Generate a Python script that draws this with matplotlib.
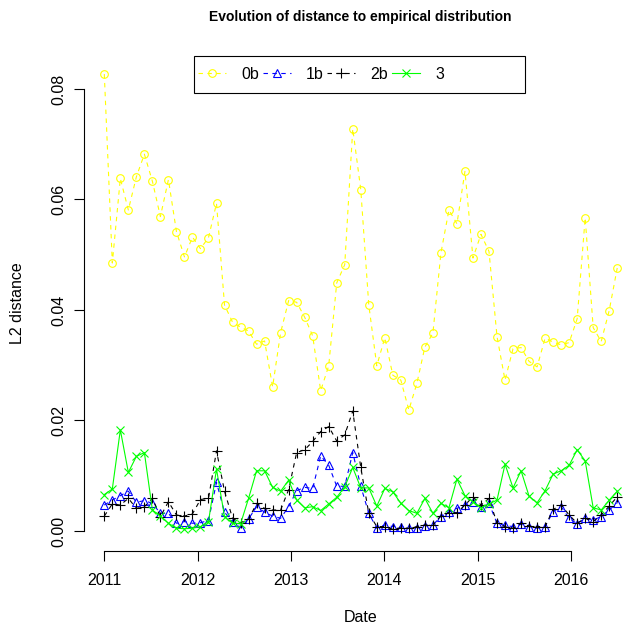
import numpy as np
import matplotlib
matplotlib.use("Agg")
import matplotlib.pyplot as plt
from matplotlib.patches import Rectangle

plt.rcParams["font.family"] = ["Liberation Sans", "DejaVu Sans"]

# dates as fractional years (65 roughly-monthly observations)
start_year = 2011.0
step_year = 0.0859
dates = start_year + np.arange(65) * step_year

dist_0b = [0.0827, 0.0485, 0.0638, 0.0581, 0.0641, 0.0682, 0.0633, 0.0569, 0.0636, 0.0542,
           0.0496, 0.0532, 0.0511, 0.0531, 0.0593, 0.0409, 0.0378, 0.0369, 0.0362, 0.0338,
           0.0344, 0.0261, 0.0359, 0.0417, 0.0414, 0.0387, 0.0353, 0.0254, 0.0299, 0.0449,
           0.0482, 0.0728, 0.0618, 0.0409, 0.0299, 0.0350, 0.0282, 0.0273, 0.0219, 0.0267,
           0.0333, 0.0358, 0.0503, 0.0581, 0.0556, 0.0651, 0.0494, 0.0537, 0.0506, 0.0352,
           0.0273, 0.0330, 0.0332, 0.0307, 0.0297, 0.0349, 0.0342, 0.0337, 0.0341, 0.0384,
           0.0567, 0.0368, 0.0343, 0.0399, 0.0476]
dist_1b = [0.0047, 0.0056, 0.0064, 0.0072, 0.0052, 0.0055, 0.0050, 0.0032, 0.0032, 0.0014,
           0.0017, 0.0014, 0.0015, 0.0019, 0.0088, 0.0034, 0.0016, 0.0006, 0.0022, 0.0044,
           0.0034, 0.0027, 0.0023, 0.0044, 0.0073, 0.0079, 0.0077, 0.0136, 0.0119, 0.0081,
           0.0081, 0.0142, 0.0081, 0.0032, 0.0005, 0.0011, 0.0008, 0.0008, 0.0005, 0.0005,
           0.0009, 0.0011, 0.0026, 0.0034, 0.0041, 0.0047, 0.0053, 0.0044, 0.0050, 0.0014,
           0.0010, 0.0008, 0.0012, 0.0008, 0.0005, 0.0008, 0.0035, 0.0044, 0.0023, 0.0013,
           0.0023, 0.0020, 0.0026, 0.0038, 0.0051]
dist_2b = [0.0027, 0.0049, 0.0047, 0.0059, 0.0041, 0.0044, 0.0059, 0.0026, 0.0053, 0.0029,
           0.0027, 0.0031, 0.0057, 0.0059, 0.0145, 0.0072, 0.0023, 0.0015, 0.0021, 0.0050,
           0.0041, 0.0038, 0.0038, 0.0075, 0.0142, 0.0147, 0.0162, 0.0180, 0.0189, 0.0163,
           0.0174, 0.0217, 0.0115, 0.0032, 0.0008, 0.0008, 0.0003, 0.0006, 0.0005, 0.0008,
           0.0011, 0.0010, 0.0028, 0.0033, 0.0033, 0.0047, 0.0062, 0.0047, 0.0059, 0.0014,
           0.0008, 0.0005, 0.0014, 0.0009, 0.0008, 0.0008, 0.0039, 0.0047, 0.0029, 0.0014,
           0.0023, 0.0017, 0.0029, 0.0045, 0.0062]
dist_3 = [0.0066, 0.0076, 0.0183, 0.0106, 0.0135, 0.0142, 0.0038, 0.0027, 0.0014, 0.0005,
          0.0004, 0.0005, 0.0008, 0.0017, 0.0112, 0.0026, 0.0014, 0.0013, 0.0059, 0.0109,
          0.0109, 0.0079, 0.0072, 0.0092, 0.0056, 0.0042, 0.0044, 0.0037, 0.0049, 0.0061,
          0.0080, 0.0115, 0.0078, 0.0078, 0.0045, 0.0077, 0.0071, 0.0050, 0.0037, 0.0032,
          0.0059, 0.0032, 0.0050, 0.0042, 0.0094, 0.0064, 0.0053, 0.0042, 0.0049, 0.0056,
          0.0121, 0.0078, 0.0109, 0.0063, 0.0051, 0.0073, 0.0103, 0.0109, 0.0119, 0.0147,
          0.0127, 0.0042, 0.0038, 0.0056, 0.0072]

labels = ["0b", "1b", "2b", "3"]
year_ticks = [2011, 2012, 2013, 2014, 2015, 2016]
y_ticks = [0.00, 0.02, 0.04, 0.06, 0.08]

W, H = 628, 625
fs = 11.5
fig = plt.figure(figsize=(W / 100, H / 100), dpi=100)
# plot region in pixels (R-like margins)
left, right, top, bottom = 84, 637, 56, 551
ax = fig.add_axes([left / W, 1 - bottom / H, (right - left) / W, (bottom - top) / H])

dash = (0, (4, 4))
ax.plot(dates, dist_0b, color="#FFFF00", linestyle=dash, lw=0.8, marker="o",
        markersize=5.5, markerfacecolor="none", markeredgewidth=0.8, label=labels[0])
ax.plot(dates, dist_1b, color="#0000FF", linestyle=dash, lw=0.8, marker="^",
        markersize=6, markerfacecolor="none", markeredgewidth=0.8, label=labels[1])
ax.plot(dates, dist_2b, color="black", linestyle=dash, lw=0.8, marker="+",
        markersize=7, markeredgewidth=0.8, label=labels[2])
ax.plot(dates, dist_3, color="#00FF00", linestyle="-", lw=0.8, marker="x",
        markersize=5.5, markeredgewidth=0.8, label=labels[3])

ax.set_xlim(2010.7824, 2016.7095)
ax.set_ylim(-0.00362, 0.08597)

for s in ["top", "right"]:
    ax.spines[s].set_visible(False)
ax.spines["left"].set_bounds(0.0, 0.08)
ax.spines["bottom"].set_bounds(2011, 2016)
for s in ["left", "bottom"]:
    ax.spines[s].set_linewidth(0.8)

ax.set_xticks(year_ticks)
ax.set_xticklabels([str(y) for y in year_ticks])
ax.set_yticks(y_ticks)
ax.set_yticklabels(["%.2f" % v for v in y_ticks], rotation=90, va="center")
ax.tick_params(direction="out", length=7.2, width=0.8, labelsize=fs)
ax.tick_params(axis="x", pad=8.5)
ax.tick_params(axis="y", pad=5.5)

fig.text((left + right) / 2 / W, 1 - 17 / H, "Evolution of distance to empirical distribution",
         ha="center", va="center", fontsize=10, fontweight="bold")
fig.text((left + right) / 2 / W, 1 - 618 / H, "Date", ha="center", va="center", fontsize=fs)
fig.text(18 / W, 1 - (top + bottom) / 2 / H, "L2 distance", ha="center", va="center",
         rotation=90, fontsize=fs)

leg = ax.legend(loc="center left", bbox_to_anchor=(198 / W, 1 - 74.5 / H),
                bbox_transform=fig.transFigure, ncol=4, frameon=False, fontsize=fs,
                borderpad=0, borderaxespad=0, handlelength=1.75, handletextpad=0.94,
                columnspacing=0.25, numpoints=1)
fig.patches.append(Rectangle((194 / W, 1 - 93 / H), 331 / W, 37 / H, transform=fig.transFigure,
                             fill=False, edgecolor="black", lw=0.8))

fig.savefig("out.png", dpi=100)
